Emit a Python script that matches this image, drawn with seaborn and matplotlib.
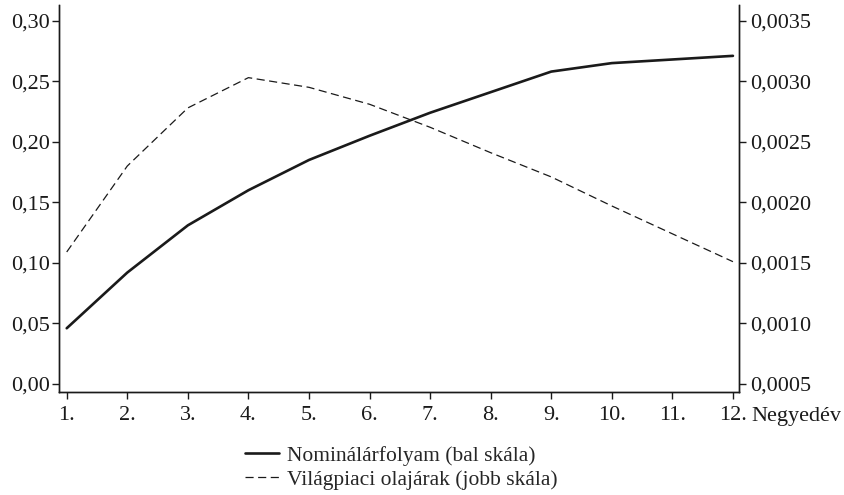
import matplotlib
matplotlib.use("Agg")
import matplotlib.pyplot as plt
import matplotlib.transforms as mtransforms
from matplotlib.lines import Line2D
import numpy as np
import pandas as pd
import seaborn as sns

# Quarters after the shock
quarters = list(range(1, 13))
quarter_labels = [f"{q}." for q in quarters]

# Nominal exchange rate response (left scale)
nominal = [0.046, 0.092, 0.131, 0.160, 0.185, 0.205, 0.224, 0.241, 0.258, 0.265, 0.268, 0.271]
# World oil price response (right scale)
oil = [0.00159, 0.00230, 0.00278, 0.00303, 0.00295, 0.00281, 0.00262, 0.00241,
       0.00221, 0.00197, 0.00174, 0.00151]

left_ticks = [0.00, 0.05, 0.10, 0.15, 0.20, 0.25, 0.30]
right_ticks = [0.0005, 0.0010, 0.0015, 0.0020, 0.0025, 0.0030, 0.0035]

label_nominal = "Nominálárfolyam (bal skála)"
label_oil = "Világpiaci olajárak (jobb skála)"
x_unit = "Negyedév"

TICK_FS = 16
LEGEND_FS = 15.5
INK = "#1a1a1a"
DASH = (0, (6.5, 3.6))

sns.set_style("ticks")
plt.rcParams["font.family"] = ["Liberation Serif", "DejaVu Serif"]
plt.rcParams["axes.linewidth"] = 1.0

df = pd.DataFrame({"quarter": quarters, "nominal": nominal, "oil": oil})

fig = plt.figure(figsize=(8.44, 4.95), dpi=100)
ax = fig.add_axes([0.0703, 0.2087, 0.8053, 0.7812])
ax2 = ax.twinx()

sns.lineplot(data=df, x="quarter", y="nominal", ax=ax, color=INK,
             linewidth=1.9, legend=False)
sns.lineplot(data=df, x="quarter", y="oil", ax=ax2, color=INK,
             linewidth=0.9, linestyle=DASH, legend=False)

ax.set_xlim(0.878, 12.1)
ax.set_ylim(-0.0064, 0.313)
ax2.set_ylim(0.0005 - 0.000064, 0.0005 + 0.00313)

ax.set_xticks(quarters)
ax.set_xticklabels(quarter_labels)
ax.set_yticks(left_ticks)
ax.set_yticklabels([f"{v:.2f}".replace(".", ",") for v in left_ticks])
ax2.set_yticks(right_ticks)
ax2.set_yticklabels([f"{v:.4f}".replace(".", ",") for v in right_ticks])

ax.set_xlabel("")
ax.set_ylabel("")
ax2.set_ylabel("")

for a in (ax, ax2):
    a.tick_params(labelsize=TICK_FS, colors=INK, width=1.0, length=5)
    a.spines["top"].set_visible(False)
    for s in ("left", "right", "bottom"):
        a.spines[s].set_color(INK)
ax.tick_params(axis="y", pad=2)
ax2.tick_params(axis="y", pad=3)
ax.tick_params(axis="x", pad=5)

# Unit label next to the last quarter tick
trans = mtransforms.blended_transform_factory(ax.transData, ax.transAxes)
ax.text(12.31, -0.0385, x_unit, transform=trans, ha="left", va="top",
        fontsize=TICK_FS, color=INK)

handles = [
    Line2D([], [], color=INK, linewidth=1.9),
    Line2D([], [], color=INK, linewidth=0.9, linestyle=DASH),
]
fig.legend(handles, [label_nominal, label_oil], loc="upper left",
           bbox_to_anchor=(0.290, 0.100), frameon=False, fontsize=LEGEND_FS,
           handlelength=1.6, handletextpad=0.35, labelspacing=0.18,
           borderpad=0, borderaxespad=0)

fig.savefig("out.png", dpi=100)
